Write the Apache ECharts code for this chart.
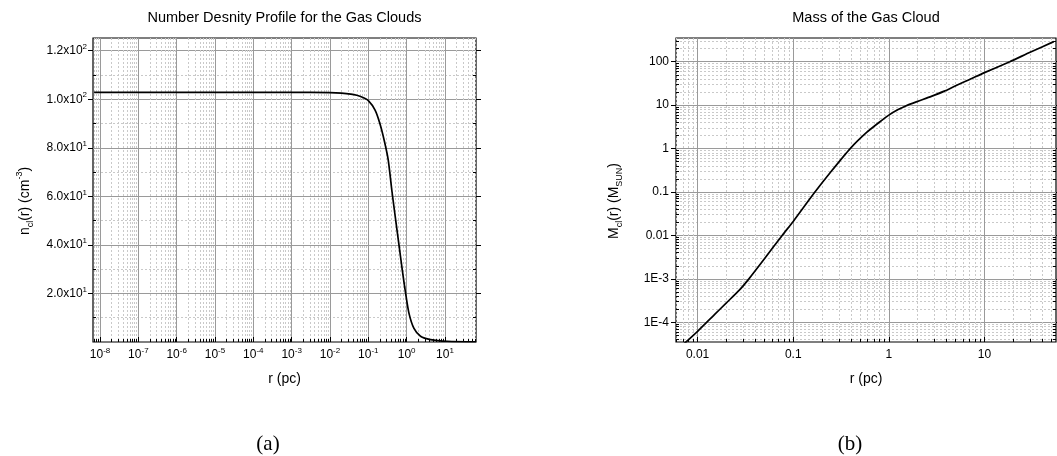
<!DOCTYPE html>
<html>
<head>
<meta charset="utf-8">
<script src="https://cdn.jsdelivr.net/npm/echarts@6/dist/echarts.min.js"></script>
<style>
  html, body { margin: 0; padding: 0; background: #fff; }
  #chart { width: 1057px; height: 456px; }
</style>
</head>
<body>
<div id="chart"></div>
<script>
// (a) number density profile, r in pc, n in cm^-3
const densR = [7e-9, 1e-6, 1e-3, 0.01, 0.02, 0.035, 0.05, 0.07, 0.1, 0.15, 0.2, 0.26, 0.33, 0.41, 0.5, 0.63, 0.77, 0.94, 1.15, 1.55, 2.3, 4.2, 11.5, 65];
const densN = [102.8, 102.8, 102.8, 102.7, 102.5, 102.1, 101.6, 100.8, 99.4, 95.5, 90, 83, 75, 62.5, 52, 40, 29.6, 20, 11.8, 5.6, 2.4, 1.0, 0.3, 0.1];

// (b) enclosed mass, r in pc, M in M_sun
const massR = [0.0072, 0.01, 0.015, 0.02, 0.0273, 0.0344, 0.05, 0.0766, 0.1, 0.164, 0.25, 0.394, 0.585, 0.8, 1, 1.25, 1.5, 2, 2.78, 3.8, 5, 7, 10, 18.4, 30, 53];
const massM = [3.2e-5, 6.2e-5, 1.5e-4, 2.8e-4, 5.5e-4, 1e-3, 2.9e-3, 0.01, 0.021, 0.092, 0.3, 1, 2.35, 4.1, 5.9, 7.9, 9.6, 12.2, 15.9, 21, 28, 39, 56, 100, 165, 290];

// tick values (log axes are given as decade exponents)
const densXDecades = [-8, -7, -6, -5, -4, -3, -2, -1, 0, 1];
const densYMajor = [20, 40, 60, 80, 100, 120];
const densYMinor = [10, 30, 50, 70, 90, 110];
const densYLabels = ['2.0x10|1', '4.0x10|1', '6.0x10|1', '8.0x10|1', '1.0x10|2', '1.2x10|2'];
const massXDecades = [-2, -1, 0, 1];
const massXLabels = ['0.01', '0.1', '1', '10'];
const massYDecades = [-4, -3, -2, -1, 0, 1, 2];
const massYLabels = ['1E-4', '1E-3', '0.01', '0.1', '1', '10', '100'];

const FONT = '"Liberation Sans", Arial, sans-serif';
const GRID_MAJOR = '#9a9a9a';
const GRID_MINOR = '#c9c9c9';

// minor ticks of a log axis: 2..9 within every decade
function logMinors(min, max) {
  const out = [];
  for (let n = Math.floor(min); n <= Math.ceil(max); n++) {
    for (let k = 2; k <= 9; k++) {
      const v = n + Math.log10(k);
      if (v > min && v < max) out.push(v);
    }
  }
  return out;
}

const densXRange = [-8.183, 1.809];
const densYRange = [0, 125.2];
const massXRange = [-2.226, 1.748];
const massYRange = [-4.454, 2.546];

const supRich = {
  b: { fontFamily: FONT, fontSize: 12, color: '#000', lineHeight: 16, verticalAlign: 'middle' },
  s: { fontFamily: FONT, fontSize: 8, color: '#000', lineHeight: 8, verticalAlign: 'top' }
};
const nameRich = {
  b: { fontFamily: FONT, fontSize: 14, color: '#000', lineHeight: 20, verticalAlign: 'middle' },
  sup: { fontFamily: FONT, fontSize: 9, color: '#000', lineHeight: 10, verticalAlign: 'top' },
  sub: { fontFamily: FONT, fontSize: 9, color: '#000', lineHeight: 10, verticalAlign: 'bottom' }
};

function idx(list, v) {
  let best = 0;
  list.forEach((x, i) => { if (Math.abs(x - v) < Math.abs(list[best] - v)) best = i; });
  return best;
}

// axis builders
function axisBase(gridIndex, range, position) {
  return {
    type: 'value', gridIndex: gridIndex, position: position,
    min: range[0], max: range[1],
    axisLine: { show: false, onZero: false },
    axisPointer: { show: false }
  };
}
function minorAxis(gridIndex, range, position, values, showGrid) {
  return Object.assign(axisBase(gridIndex, range, position), {
    axisTick: { show: true, inside: true, length: 3, customValues: values, lineStyle: { color: '#000', width: 1 } },
    axisLabel: { show: false },
    splitLine: { show: showGrid, lineStyle: { color: GRID_MINOR, width: 1, type: [2, 2] } }
  });
}
function majorAxis(gridIndex, range, position, values, inside, label, showGrid) {
  return Object.assign(axisBase(gridIndex, range, position), {
    axisTick: { show: true, inside: inside, length: 5, customValues: values, lineStyle: { color: '#000', width: 1 } },
    axisLabel: label ? Object.assign({ customValues: values }, label) : { show: false },
    splitLine: { show: showGrid, lineStyle: { color: GRID_MAJOR, width: 1 } }
  });
}

const chart = echarts.init(document.getElementById('chart'));

const option = {
  animation: false,
  backgroundColor: '#fff',
  grid: [
    { left: 93, top: 38, width: 383, height: 304, show: true, borderColor: '#000', borderWidth: 1.2, backgroundColor: 'transparent', outerBoundsMode: 'none' },
    { left: 676, top: 38, width: 380, height: 304, show: true, borderColor: '#000', borderWidth: 1.2, backgroundColor: 'transparent', outerBoundsMode: 'none' }
  ],
  xAxis: [
    // (a)
    Object.assign(minorAxis(0, densXRange, 'bottom', logMinors(densXRange[0], densXRange[1]), true), {
      name: 'r (pc)', nameLocation: 'middle', nameGap: 30,
      nameTextStyle: { fontFamily: FONT, fontSize: 14, color: '#000' }
    }),
    majorAxis(0, densXRange, 'bottom', densXDecades, true, {
      margin: 5, fontFamily: FONT,
      formatter: v => '{b|10}{s|' + densXDecades[idx(densXDecades, v)] + '}',
      rich: supRich
    }, true),
    // (b)
    Object.assign(minorAxis(1, massXRange, 'bottom', logMinors(massXRange[0], massXRange[1]), true), {
      name: 'r (pc)', nameLocation: 'middle', nameGap: 30,
      nameTextStyle: { fontFamily: FONT, fontSize: 14, color: '#000' }
    }),
    majorAxis(1, massXRange, 'bottom', massXDecades, true, {
      margin: 7, fontFamily: FONT, fontSize: 12, color: '#000',
      formatter: v => massXLabels[idx(massXDecades, v)]
    }, true)
  ],
  yAxis: [
    // (a) left
    Object.assign(minorAxis(0, densYRange, 'left', densYMinor, true), {
      name: '{b|n}{sub|cl}{b|(r) (cm}{sup|-3}{b|)}', nameLocation: 'middle', nameGap: 58,
      nameTextStyle: { fontFamily: FONT, fontSize: 14, color: '#000', rich: nameRich, padding: [0, 22, 0, 0] }
    }),
    majorAxis(0, densYRange, 'left', densYMajor, false, {
      margin: 6, fontFamily: FONT,
      formatter: v => { const p = densYLabels[idx(densYMajor, v)].split('|'); return '{b|' + p[0] + '}{s|' + p[1] + '}'; },
      rich: supRich
    }, true),
    // (a) right mirror
    minorAxis(0, densYRange, 'right', densYMinor, false),
    majorAxis(0, densYRange, 'right', densYMajor, false, null, false),
    // (b) left
    Object.assign(minorAxis(1, massYRange, 'left', logMinors(massYRange[0], massYRange[1]), true), {
      name: '{b|M}{sub|cl}{b|(r) (M}{sub|SUN}{b|)}', nameLocation: 'middle', nameGap: 52,
      nameTextStyle: { fontFamily: FONT, fontSize: 14, color: '#000', rich: nameRich, padding: [0, 22, 0, 0] }
    }),
    majorAxis(1, massYRange, 'left', massYDecades, false, {
      margin: 7, fontFamily: FONT, fontSize: 12, color: '#000',
      formatter: v => massYLabels[idx(massYDecades, v)]
    }, true),
    // (b) right mirror
    minorAxis(1, massYRange, 'right', logMinors(massYRange[0], massYRange[1]), false),
    majorAxis(1, massYRange, 'right', massYDecades, false, null, false)
  ],
  graphic: [
    { type: 'text', x: 284.5, y: 18, style: { text: 'Number Desnity Profile for the Gas Clouds', font: '14.5px ' + FONT, fill: '#000', align: 'center', verticalAlign: 'middle', textAlign: 'center', textVerticalAlign: 'middle' } },
    { type: 'text', x: 866, y: 18, style: { text: 'Mass of the Gas Cloud', font: '14.5px ' + FONT, fill: '#000', align: 'center', verticalAlign: 'middle', textAlign: 'center', textVerticalAlign: 'middle' } },
    { type: 'text', x: 268, y: 444, style: { text: '(a)', font: '21px "Liberation Serif", serif', fill: '#000', align: 'center', verticalAlign: 'middle', textAlign: 'center', textVerticalAlign: 'middle' } },
    { type: 'text', x: 850, y: 444, style: { text: '(b)', font: '21px "Liberation Serif", serif', fill: '#000', align: 'center', verticalAlign: 'middle', textAlign: 'center', textVerticalAlign: 'middle' } }
  ],
  series: [
    {
      name: 'density', type: 'line', xAxisIndex: 1, yAxisIndex: 1,
      data: densR.map((r, i) => [Math.log10(r), densN[i]]),
      showSymbol: false, smooth: 0.25, clip: true,
      lineStyle: { color: '#000', width: 1.7 }, z: 5
    },
    {
      name: 'mass', type: 'line', xAxisIndex: 3, yAxisIndex: 5,
      data: massR.map((r, i) => [Math.log10(r), Math.log10(massM[i])]),
      showSymbol: false, smooth: 0.2, clip: true,
      lineStyle: { color: '#000', width: 1.7 }, z: 5
    }
  ]
};

chart.setOption(option);
</script>
</body>
</html>
